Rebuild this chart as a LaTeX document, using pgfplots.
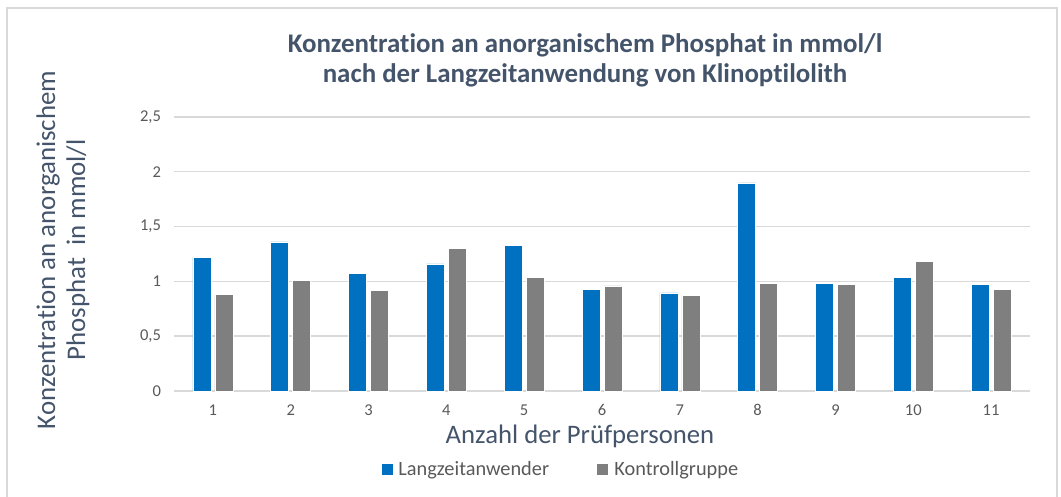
\documentclass[border=0pt]{standalone}
\usepackage{pgfplots}
\pgfplotsset{compat=1.18}
\usepackage{fontspec}
\setmainfont{Carlito}[Ligatures={NoCommon}]
\definecolor{barblue}{HTML}{0070C0}
\definecolor{bargray}{HTML}{7F7F7F}
\definecolor{titlecol}{HTML}{44546A}
\definecolor{tickcol}{HTML}{595959}
\definecolor{gridcol}{HTML}{D9D9D9}

\begin{document}
\begin{tikzpicture}
% Bildgroesse: 1 px des Originals = 0.5bp
\useasboundingbox (0,0) rectangle (530.5bp,248.5bp);

\begin{axis}[
    at={(87bp,53bp)}, anchor=south west,
    scale only axis,
    width=428bp, height=137bp,
    ybar=2bp, bar width=9bp,
    xmin=0.5, xmax=11.5,
    ymin=0, ymax=2.5,
    xtick={1,...,11},
    ytick={0,0.5,1,1.5,2,2.5},
    yticklabels={0,{0,5},1,{1,5},2,{2,5}},
    axis x line*=bottom,
    axis y line*=left,
    x axis line style={gridcol, line width=0.7bp},
    y axis line style={draw=none},
    xtick style={draw=none},
    ytick style={draw=none},
    ymajorgrids,
    grid style={gridcol, line width=0.7bp},
    ticklabel style={font=\fontsize{8.3}{9}\selectfont, text=tickcol},
    /pgf/number format/assume math mode=true,
    xticklabel style={yshift=1bp},
    yticklabel style={xshift=-3bp},
    clip=false,
]
% Langzeitanwender
\addplot[fill=barblue, draw=white, line width=0.25bp] coordinates {
    (1,1.22) (2,1.36) (3,1.075) (4,1.16) (5,1.33) (6,0.925)
    (7,0.895) (8,1.90) (9,0.98) (10,1.04) (11,0.975)
};
% Kontrollgruppe
\addplot[fill=bargray, draw=white, line width=0.25bp] coordinates {
    (1,0.88) (2,1.01) (3,0.92) (4,1.30) (5,1.04) (6,0.96)
    (7,0.875) (8,0.98) (9,0.975) (10,1.185) (11,0.93)
};
\end{axis}

\begin{scope}[x=0.5bp, y=-0.5bp, shift={(0,248.5bp)}]
% Rahmen
\draw[gridcol, line width=0.6bp] (7,497) -- (7,8) -- (1057,8) -- (1057,497);

% Titel
\node[font=\bfseries\fontsize{13.5}{15}\selectfont, text=titlecol, align=center]
    at (585,60) {Konzentration an anorganischem Phosphat in mmol/l\\nach der Langzeitanwendung von Klinoptilolith};

% Achsentitel
\node[font=\fontsize{13.5}{15}\selectfont, text=titlecol, align=center, rotate=90]
    at (63,250) {Konzentration an anorganischem\\Phosphat\ \ in mmol/l};
\node[font=\fontsize{13.4}{15}\selectfont, text=titlecol]
    at (580,436) {Anzahl der Prüfpersonen};

% Legende
\fill[barblue] (382,464) rectangle (393,475);
\node[font=\fontsize{10.2}{12}\selectfont, text=tickcol, anchor=west, inner sep=0pt]
    at (398,470) {Langzeitanwender};
\fill[bargray] (597,464) rectangle (608,475);
\node[font=\fontsize{10.2}{12}\selectfont, text=tickcol, anchor=west, inner sep=0pt]
    at (614,470) {Kontrollgruppe};
\end{scope}
\end{tikzpicture}
\end{document}
